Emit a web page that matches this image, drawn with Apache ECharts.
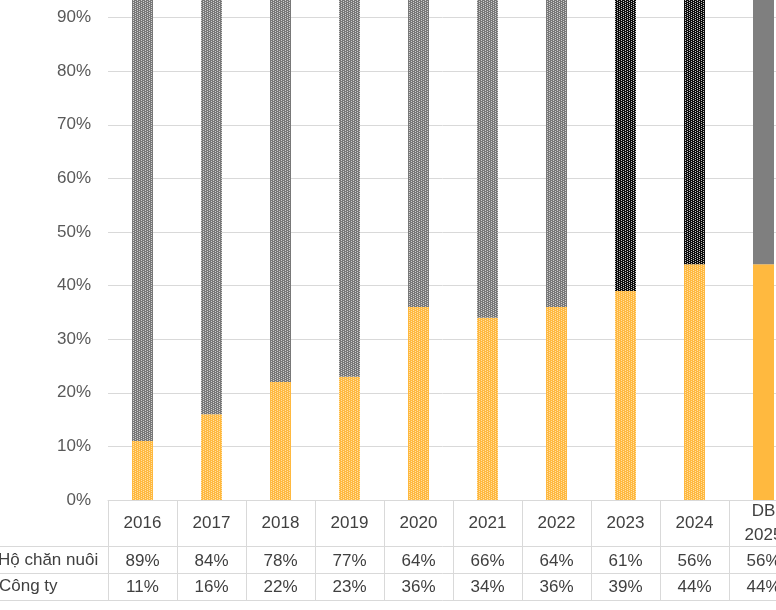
<!DOCTYPE html>
<html>
<head>
    <meta charset="UTF-8">
    <title>Cơ cấu chăn nuôi</title>
    <script src="https://cdn.jsdelivr.net/npm/echarts@6/dist/echarts.min.js"></script>
    <style>
        html, body { margin: 0; padding: 0; background: #fff; }
    </style>
</head>
<body>
    <div id="chart" style="width:776px; height:610px;"></div>
    <script>
        // data
        var years = ['2016', '2017', '2018', '2019', '2020', '2021', '2022', '2023', '2024', 'DB\n2025'];
        var hoChanNuoi = [89, 84, 78, 77, 64, 66, 64, 61, 56, 56];
        var congTy = [11, 16, 22, 23, 36, 34, 36, 39, 44, 44];
        var rowNames = ['Hộ chăn nuôi', 'Công ty'];

        var FONT = 'Liberation Sans, Arial, sans-serif';
        var LINE = '#d9d9d9';

        // small repeating tiles for the patterned fills
        function makeTile(base, dot) {
            var c = document.createElement('canvas');
            c.width = 4; c.height = 4;
            var g = c.getContext('2d');
            g.fillStyle = base;
            g.fillRect(0, 0, 4, 4);
            g.fillStyle = dot;
            g.fillRect(1, 0, 1, 1);
            g.fillRect(1, 2, 1, 1);
            g.fillRect(3, 1, 1, 1);
            g.fillRect(3, 3, 1, 1);
            return { image: c, repeat: 'repeat' };
        }
        var grayPat = makeTile('#787878', '#cfcfcf');
        var blackPat = makeTile('#0d0d0d', '#c4c4c4');
        var orangePat = makeTile('#ffb93f', '#ffe0a6');

        var topColors = years.map(function (y, i) {
            if (i === years.length - 1) return '#7f7f7f';
            if (y === '2023' || y === '2024') return blackPat;
            return grayPat;
        });
        var bottomColors = years.map(function (y, i) {
            return i === years.length - 1 ? '#ffb93f' : orangePat;
        });

        var chart = echarts.init(document.getElementById('chart'), null, {renderer: 'canvas'});

        var pct = function (v) { return v + '%'; };

        chart.setOption({
            animation: false,
            textStyle: { fontFamily: FONT },
            grid: { left: 108, right: -22, top: -36, bottom: 110, containLabel: false, outerBoundsMode: 'none' },
            yAxis: {
                type: 'value',
                min: 0, max: 100, interval: 10,
                axisLine: { show: false },
                axisTick: { show: false },
                axisLabel: { formatter: '{value}%', fontSize: 17, color: '#595959', margin: 17, fontFamily: FONT },
                splitLine: { lineStyle: { color: LINE, width: 1 } }
            },
            xAxis: [
                {
                    type: 'category', data: years, position: 'bottom',
                    axisLine: { show: true, lineStyle: { color: LINE } },
                    axisTick: { show: true, alignWithLabel: false, interval: 0, length: 100, lineStyle: { color: LINE, width: 1 } },
                    axisLabel: { fontSize: 17, color: '#404040', margin: 23, verticalAlign: 'middle', lineHeight: 24, fontFamily: FONT, interval: 0 }
                },
                {
                    type: 'category', data: hoChanNuoi.map(pct), position: 'bottom', offset: 46,
                    axisLine: { show: true, lineStyle: { color: LINE } },
                    axisTick: { show: false },
                    axisLabel: { fontSize: 17, color: '#404040', margin: 15, verticalAlign: 'middle', fontFamily: FONT, interval: 0 }
                },
                {
                    type: 'category', data: congTy.map(pct), position: 'bottom', offset: 73,
                    axisLine: { show: true, lineStyle: { color: LINE } },
                    axisTick: { show: false },
                    axisLabel: { fontSize: 17, color: '#404040', margin: 14, verticalAlign: 'middle', fontFamily: FONT, interval: 0 }
                },
                {
                    type: 'category', data: years, position: 'bottom', offset: 100,
                    axisLine: { show: true, lineStyle: { color: LINE } },
                    axisTick: { show: false },
                    axisLabel: { show: false }
                }
            ],
            series: [
                {
                    name: rowNames[1], type: 'bar', stack: 'total', barWidth: 21,
                    data: congTy.map(function (v, i) { return { value: v, itemStyle: { color: bottomColors[i] } }; })
                },
                {
                    name: rowNames[0], type: 'bar', stack: 'total', barWidth: 21,
                    data: hoChanNuoi.map(function (v, i) { return { value: v, itemStyle: { color: topColors[i] } }; })
                }
            ],
            graphic: [
                { type: 'line', shape: { x1: 0, y1: 546.5, x2: 108, y2: 546.5 }, style: { stroke: LINE, lineWidth: 1 } },
                { type: 'line', shape: { x1: 0, y1: 573.5, x2: 108, y2: 573.5 }, style: { stroke: LINE, lineWidth: 1 } },
                { type: 'line', shape: { x1: 0, y1: 600.5, x2: 108, y2: 600.5 }, style: { stroke: LINE, lineWidth: 1 } },
                { type: 'text', left: -2, top: 552, style: { text: rowNames[0], font: '17px ' + FONT, fill: '#404040' } },
                { type: 'text', left: -1, top: 578, style: { text: rowNames[1], font: '17px ' + FONT, fill: '#404040' } }
            ]
        });
    </script>
</body>
</html>
